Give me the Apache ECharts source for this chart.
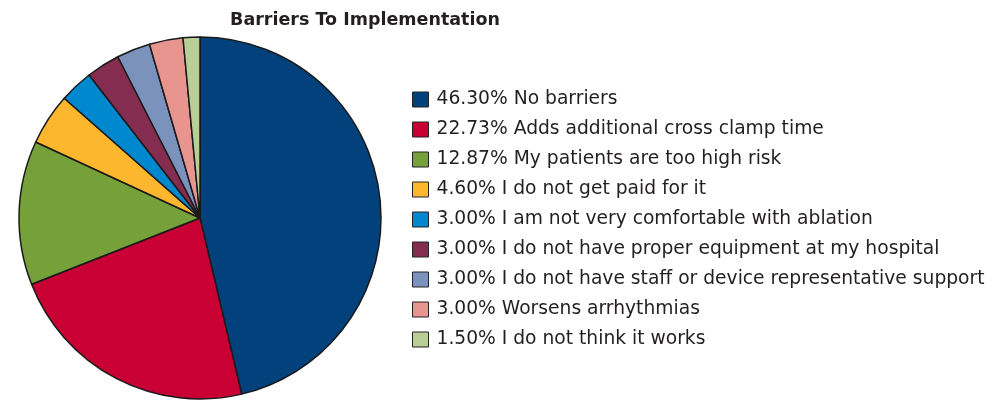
<!DOCTYPE html>
<html>
<head>
<meta charset="utf-8">
<script src="https://cdn.jsdelivr.net/npm/echarts@6/dist/echarts.min.js"></script>
<style>
  html, body { margin: 0; padding: 0; background: #fff; }
  #chart { width: 994px; height: 403px; }
</style>
</head>
<body>
<div id="chart"></div>
<script>
// Survey responses: barriers to implementation (percent of respondents)
const categories = [
  'No barriers',
  'Adds additional cross clamp time',
  'My patients are too high risk',
  'I do not get paid for it',
  'I am not very comfortable with ablation',
  'I do not have proper equipment at my hospital',
  'I do not have staff or device representative support',
  'Worsens arrhythmias',
  'I do not think it works'
];
const percentages = [46.30, 22.73, 12.87, 4.60, 3.00, 3.00, 3.00, 3.00, 1.50];
const sliceColors = ['#02417B', '#C80034', '#76A03A', '#FDB72F', '#0088CE', '#852C51', '#7B92BD', '#E8948F', '#B8CF97'];

const valueByName = {};
categories.forEach((c, i) => { valueByName[c] = percentages[i]; });

const FONT = 'DejaVu Sans, Liberation Sans, Arial, sans-serif';

const chart = echarts.init(document.getElementById('chart'), null, { renderer: 'canvas' });
chart.setOption({
  animation: false,
  backgroundColor: '#ffffff',
  title: {
    text: 'Barriers To Implementation',
    left: 365,
    top: 11,
    textAlign: 'center',
    padding: 0,
    textStyle: {
      fontFamily: FONT,
      fontWeight: 'bold',
      fontSize: 17.5,
      color: '#231F20'
    }
  },
  legend: {
    orient: 'vertical',
    left: 412,
    top: 90,
    padding: 0,
    icon: 'rect',
    itemWidth: 16,
    itemHeight: 15,
    itemGap: 11,
    selectedMode: false,
    itemStyle: { borderColor: '#222', borderWidth: 1 },
    formatter: name => valueByName[name].toFixed(2) + '% ' + name,
    textStyle: {
      fontFamily: FONT,
      fontSize: 18.7,
      color: '#231F20',
      padding: [0, 0, 0, 3]
    },
    data: categories
  },
  series: [{
    type: 'pie',
    center: [200, 218],
    radius: [0, 181],
    startAngle: 90,
    clockwise: true,
    label: { show: false },
    labelLine: { show: false },
    emphasis: { disabled: true },
    itemStyle: { borderColor: '#1a1a1a', borderWidth: 1.5 },
    data: categories.map((c, i) => ({
      name: c,
      value: percentages[i],
      itemStyle: { color: sliceColors[i] }
    }))
  }]
});
</script>
</body>
</html>
